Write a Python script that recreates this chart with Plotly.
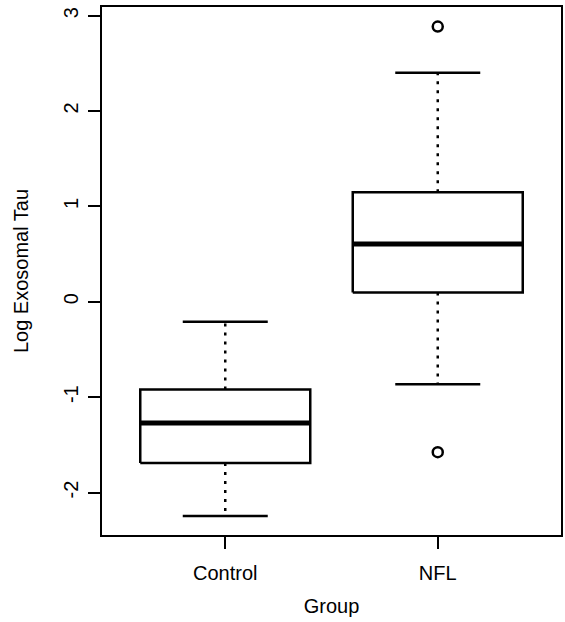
import plotly.graph_objects as go

categories = ["Control", "NFL"]
lower_whisker = [-2.245, -0.864]
q1 = [-1.69, 0.098]
median = [-1.27, 0.605]
q3 = [-0.92, 1.147]
upper_whisker = [-0.21, 2.40]
outliers = [[], [2.885, -1.577]]
y_ticks = [-2, -1, 0, 1, 2, 3]

BOX_HALF = 0.4
CAP_HALF = 0.2
FONT = "Liberation Sans, Arial, sans-serif"

fig = go.Figure()
for i, cat in enumerate(categories):
    x = i + 1
    line = dict(color="black", width=2.5)
    # whiskers (dotted)
    for a, b in ((q3[i], upper_whisker[i]), (q1[i], lower_whisker[i])):
        fig.add_trace(go.Scatter(x=[x, x], y=[a, b], mode="lines",
                                 line=dict(color="black", width=2.5, dash="3px,6px"),
                                 hoverinfo="skip", showlegend=False))
    # caps
    for v in (upper_whisker[i], lower_whisker[i]):
        fig.add_trace(go.Scatter(x=[x - CAP_HALF, x + CAP_HALF], y=[v, v], mode="lines",
                                 line=line, hoverinfo="skip", showlegend=False))
    # box
    fig.add_trace(go.Scatter(
        x=[x - BOX_HALF, x + BOX_HALF, x + BOX_HALF, x - BOX_HALF, x - BOX_HALF],
        y=[q1[i], q1[i], q3[i], q3[i], q1[i]], mode="lines",
        fill="toself", fillcolor="white",
        line=dict(color="black", width=2.5), name=cat, showlegend=False))
    # median
    fig.add_trace(go.Scatter(x=[x - BOX_HALF, x + BOX_HALF], y=[median[i], median[i]],
                             mode="lines", line=dict(color="black", width=5),
                             hoverinfo="skip", showlegend=False))
    if outliers[i]:
        fig.add_trace(go.Scatter(x=[x] * len(outliers[i]), y=outliers[i], mode="markers",
                                 marker=dict(symbol="circle-open", size=10, color="black",
                                             line=dict(width=2.5, color="black")),
                                 showlegend=False))

fig.update_layout(
    width=565, height=622,
    margin=dict(l=102, r=2, t=7, b=87),
    paper_bgcolor="white", plot_bgcolor="white",
    font=dict(family=FONT, size=20, color="black"),
    xaxis=dict(range=[0.42, 2.58], tickvals=[1, 2], ticktext=categories,
               showgrid=False, zeroline=False, showline=True, mirror=True,
               linecolor="black", linewidth=2, ticks="outside", ticklen=12,
               tickwidth=2, tickcolor="black", tickfont=dict(size=20),
               ticklabelstandoff=7,
               title=dict(text="Group", standoff=16, font=dict(size=20))),
    yaxis=dict(range=[-2.445, 3.09], tickvals=y_ticks,
               ticktext=[str(v) for v in y_ticks], tickangle=-90,
               showgrid=False, zeroline=False, showline=True, mirror=True,
               linecolor="black", linewidth=2, ticks="outside", ticklen=12,
               tickwidth=2, tickcolor="black", tickfont=dict(size=20),
               ticklabelstandoff=2,
               title=dict(text="Log Exosomal Tau", standoff=26, font=dict(size=20))),
)

fig.write_html("out.html", config={"displayModeBar": False},
               post_script="document.body.style.margin='0';")
